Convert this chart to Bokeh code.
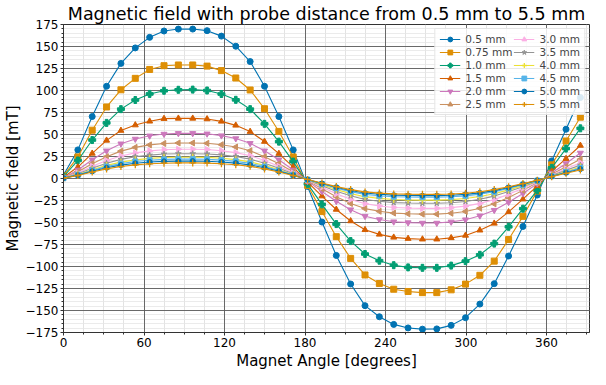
import math
from bokeh.plotting import figure
from bokeh.models import FixedTicker, Legend, LegendItem, Range1d, Grid, Title
from bokeh.embed import file_html
from bokeh.resources import INLINE

angles = [0.0, 10.7, 21.4, 32.1, 42.8, 53.5, 64.2, 74.9, 85.6, 96.3, 107.0, 117.7,
          128.4, 139.1, 149.8, 160.5, 171.2, 181.9, 192.6, 203.3, 214.0, 224.7,
          235.4, 246.1, 256.8, 267.5, 278.2, 288.9, 299.6, 310.3, 321.0, 331.7,
          342.4, 353.1, 363.8, 374.5, 385.2]

labels = ["0.5 mm", "0.75 mm", "1.0 mm", "1.5 mm", "2.0 mm", "2.5 mm",
          "3.0 mm", "3.5 mm", "4.0 mm", "4.5 mm", "5.0 mm", "5.5 mm"]

b_0_5 = [4, 32.5, 70.4, 104.8, 130.8, 148.4, 160.4, 167.6, 169.8, 169.8, 168.0, 161.8,
         150.3, 132.9, 104.8, 70.4, 32.5, -9.0, -49.5, -87.4, -119.9, -144.5, -157.1,
         -165.8, -169.8, -171.2, -170.9, -166.9, -158.2, -142.7, -119.5, -88.1, -54.5,
         -18.8, 20.0, 56.0, 92.0]
b_0_75 = [3, 24.5, 54.9, 81.3, 100.8, 113.8, 123.9, 128.2, 129.0, 129.0, 127.7, 122.6,
          114.2, 100.6, 79.3, 53.5, 24.5, -7.8, -37.6, -66.1, -90.8, -109.6, -119.3,
          -125.8, -128.4, -129.7, -129.7, -126.5, -120.0, -110.0, -93.9, -69.4, -43.0,
          -14.3, 15.5, 42.6, 69.7]
b_1_0 = [2, 20.5, 43.7, 63.2, 78.8, 89.2, 96.1, 99.7, 100.8, 101.0, 100.0, 96.0,
         89.4, 78.8, 62.1, 41.9, 19.2, -6.1, -29.4, -51.8, -71.1, -85.8, -93.4,
         -98.5, -101.0, -101.5, -101.5, -99.0, -93.9, -86.7, -74.0, -54.9, -34.3,
         -13.3, 12.1, 34.0, 57.0]
b_1_5 = [1.4, 13.0, 28.5, 43.3, 54.5, 60.7, 65.0, 68.0, 68.3, 68.3, 67.6, 64.9,
         60.4, 53.3, 42.0, 28.3, 13.0, -4.1, -20.0, -35.2, -48.3, -58.3, -63.5,
         -66.9, -68.3, -69.0, -69.0, -67.5, -64.7, -58.8, -51.0, -38.0, -23.5,
         -8.3, 8.2, 22.5, 37.5]
b_2_0 = [1.0, 9.7, 21.3, 31.5, 39.5, 44.9, 48.5, 50.5, 51.3, 51.3, 50.8, 48.7,
         45.4, 40.0, 31.5, 21.3, 9.7, -3.0, -14.7, -25.8, -35.4, -42.8, -46.6,
         -49.1, -50.1, -50.6, -50.6, -49.3, -46.8, -42.3, -36.0, -27.0, -17.0,
         -5.8, 6.2, 17.0, 29.0]
b_2_5 = [0.8, 7.7, 16.8, 24.8, 31.1, 35.4, 38.2, 39.8, 40.4, 40.4, 40.0, 38.4,
         35.8, 31.5, 24.8, 16.8, 7.7, -2.4, -11.7, -20.7, -28.4, -34.2, -37.3,
         -39.3, -40.1, -40.5, -40.5, -39.5, -37.5, -33.8, -28.8, -21.5, -13.5,
         -4.6, 4.9, 13.4, 21.8]
b_3_0 = [0.7, 6.3, 13.8, 20.4, 25.6, 29.1, 31.4, 32.7, 33.2, 33.2, 32.9, 31.5,
         29.4, 25.9, 20.4, 13.8, 6.3, -2.0, -9.8, -17.3, -23.7, -28.6, -31.2,
         -32.9, -33.6, -33.9, -33.9, -33.1, -31.4, -28.3, -24.0, -17.8, -11.2,
         -3.9, 4.0, 11.0, 17.9]
b_3_5 = [0.6, 5.4, 11.7, 17.3, 21.7, 24.7, 26.6, 27.8, 28.2, 28.2, 27.9, 26.8,
         25.0, 22.0, 17.3, 11.7, 5.4, -1.7, -8.2, -14.4, -19.7, -23.8, -25.9,
         -27.4, -27.9, -28.2, -28.2, -27.5, -26.1, -23.5, -20.0, -14.8, -9.3,
         -3.2, 3.4, 9.3, 15.2]
b_4_0 = [0.5, 4.6, 10.0, 14.9, 18.6, 21.2, 22.9, 23.8, 24.2, 24.2, 24.0, 23.0,
         21.4, 18.9, 14.9, 10.0, 4.6, -1.5, -7.1, -12.5, -17.2, -20.8, -22.6,
         -23.9, -24.4, -24.6, -24.6, -24.0, -22.8, -20.5, -17.4, -12.9, -8.1,
         -2.8, 2.9, 8.0, 13.1]
b_4_5 = [0.4, 4.2, 9.1, 13.5, 16.9, 19.3, 20.8, 21.7, 22.0, 22.0, 21.8, 20.9,
         19.5, 17.2, 13.5, 9.1, 4.2, -1.3, -6.2, -10.9, -14.9, -18.0, -19.6,
         -20.7, -21.1, -21.3, -21.3, -20.8, -19.7, -17.8, -15.1, -11.2, -7.0,
         -2.4, 2.6, 7.3, 11.9]
b_5_0 = [0.4, 3.8, 8.2, 12.2, 15.2, 17.3, 18.7, 19.5, 19.8, 19.8, 19.6, 18.8,
         17.5, 15.4, 12.2, 8.2, 3.8, -1.2, -5.7, -9.9, -13.7, -16.5, -17.9,
         -18.9, -19.3, -19.5, -19.5, -19.0, -18.0, -16.3, -13.8, -10.2, -6.4,
         -2.1, 2.4, 6.5, 10.7]
b_5_5 = [0.4, 3.4, 7.3, 10.9, 13.6, 15.5, 16.7, 17.4, 17.7, 17.7, 17.5, 16.8,
         15.7, 13.8, 10.9, 7.3, 3.4, -1.1, -5.2, -9.2, -12.6, -15.2, -16.6,
         -17.5, -17.8, -18.0, -18.0, -17.6, -16.7, -15.0, -12.6, -9.3, -5.8,
         -2.0, 2.1, 5.9, 9.6]

series = [b_0_5, b_0_75, b_1_0, b_1_5, b_2_0, b_2_5, b_3_0, b_3_5, b_4_0, b_4_5, b_5_0, b_5_5]

x_ticks = [0, 60, 120, 180, 240, 300, 360]
y_ticks = [-175, -150, -125, -100, -75, -50, -25, 0, 25, 50, 75, 100, 125, 150, 175]

colors = ['#0173b2', '#de8f05', '#029e73', '#d55e00', '#cc78bc', '#ca9161',
          '#fbafe4', '#949494', '#ece133', '#56b4e9', '#0173b2', '#de8f05']
markers = ['circle', 'square', 'plus', 'triangle', 'inverted_triangle', 'triangle',
           'triangle', 'star', 'cross', 'square', 'circle', 'cross']
mangles = [0, 0, 0, 0, 0, math.pi / 2, -math.pi / 2, 0, 0, 0, 0, 0]
msizes = [6, 6, 7, 6, 6, 6, 6, 6, 7, 5, 5, 7]

FONT = "DejaVu Sans"

x_ticker = FixedTicker(ticks=x_ticks, minor_ticks=list(range(0, 400, 15)))
y_ticker = FixedTicker(ticks=y_ticks, minor_ticks=list(range(-175, 180, 5)))

p = figure(width=590, height=369, output_backend="svg", toolbar_location=None,
           x_range=Range1d(0, 392), y_range=Range1d(-175, 175),
           min_border_left=58, min_border_right=1, min_border_top=0, min_border_bottom=0,
           title="Magnetic field with probe distance from 0.5 mm to 5.5 mm")

p.title.text_font = FONT
p.title.text_font_size = "17.5px"
p.title.text_font_style = "normal"
p.title.text_color = "black"
p.title.align = "center"
p.title.standoff = 2
p.title.offset = 0

p.yaxis.axis_label = "Magnetic field [mT]"
for ax in (p.xaxis, p.yaxis):
    ax.axis_label_text_font = FONT
    ax.axis_label_text_font_size = "15px"
    ax.axis_label_text_font_style = "normal"
    ax.axis_label_text_color = "black"
    ax.axis_label_standoff = 1
    ax.major_label_text_font = FONT
    ax.major_label_text_font_size = "12px"
    ax.major_label_text_color = "black"
    ax.axis_line_color = "#333333"
    ax.major_tick_line_color = "#333333"
    ax.minor_tick_line_color = "#333333"
    ax.major_tick_out = 3
    ax.major_tick_in = 0
    ax.minor_tick_out = 2
    ax.minor_tick_in = 0
    ax.major_label_standoff = 2

p.xaxis.ticker = x_ticker
p.yaxis.ticker = y_ticker
p.yaxis.major_label_overrides = {v: (str(v).replace("-", "\u2212")) for v in y_ticks}

# x axis title as a panel below the axis
xtitle = Title(text="Magnet Angle [degrees]", align="center", text_font=FONT,
               text_font_size="15px", text_font_style="normal", text_color="black",
               standoff=0, offset=0)
p.add_layout(xtitle, "below")

# minor grids first
p.xgrid.grid_line_color = None
p.ygrid.grid_line_color = None
p.xgrid.minor_grid_line_color = "#dcdcdc"
p.ygrid.minor_grid_line_color = "#e6e6e6"
p.xgrid.minor_grid_line_width = 0.8
p.ygrid.minor_grid_line_width = 0.8
# major grids drawn on top of minor ones
gx = Grid(dimension=0, ticker=x_ticker, grid_line_color="#5a5a5a", grid_line_width=0.9)
gy = Grid(dimension=1, ticker=y_ticker, grid_line_color="#5a5a5a", grid_line_width=0.9)
p.add_layout(gx)
p.add_layout(gy)

p.outline_line_color = "#333333"
p.background_fill_color = "white"
p.border_fill_color = "white"

items = []
for lab, ys, c, m, a, s in zip(labels, series, colors, markers, mangles, msizes):
    r1 = p.line(angles, ys, line_color=c, line_width=1.1)
    r2 = p.scatter(angles, ys, marker=m, angle=a, size=s, fill_color=c, line_color=c,
                   line_width=1 if m != 'cross' else 1.3)
    items.append(LegendItem(label=lab, renderers=[r1, r2]))

legend = Legend(items=items, ncols=2, location="top_right",
                label_text_font=FONT, label_text_font_size="10.5px",
                label_height=12, glyph_height=12, glyph_width=21, spacing=1,
                padding=4, margin=4, label_standoff=5,
                border_line_color="#cccccc", background_fill_alpha=0.85)
p.add_layout(legend, "center")

open("out.html", "w").write(file_html(p, INLINE))
